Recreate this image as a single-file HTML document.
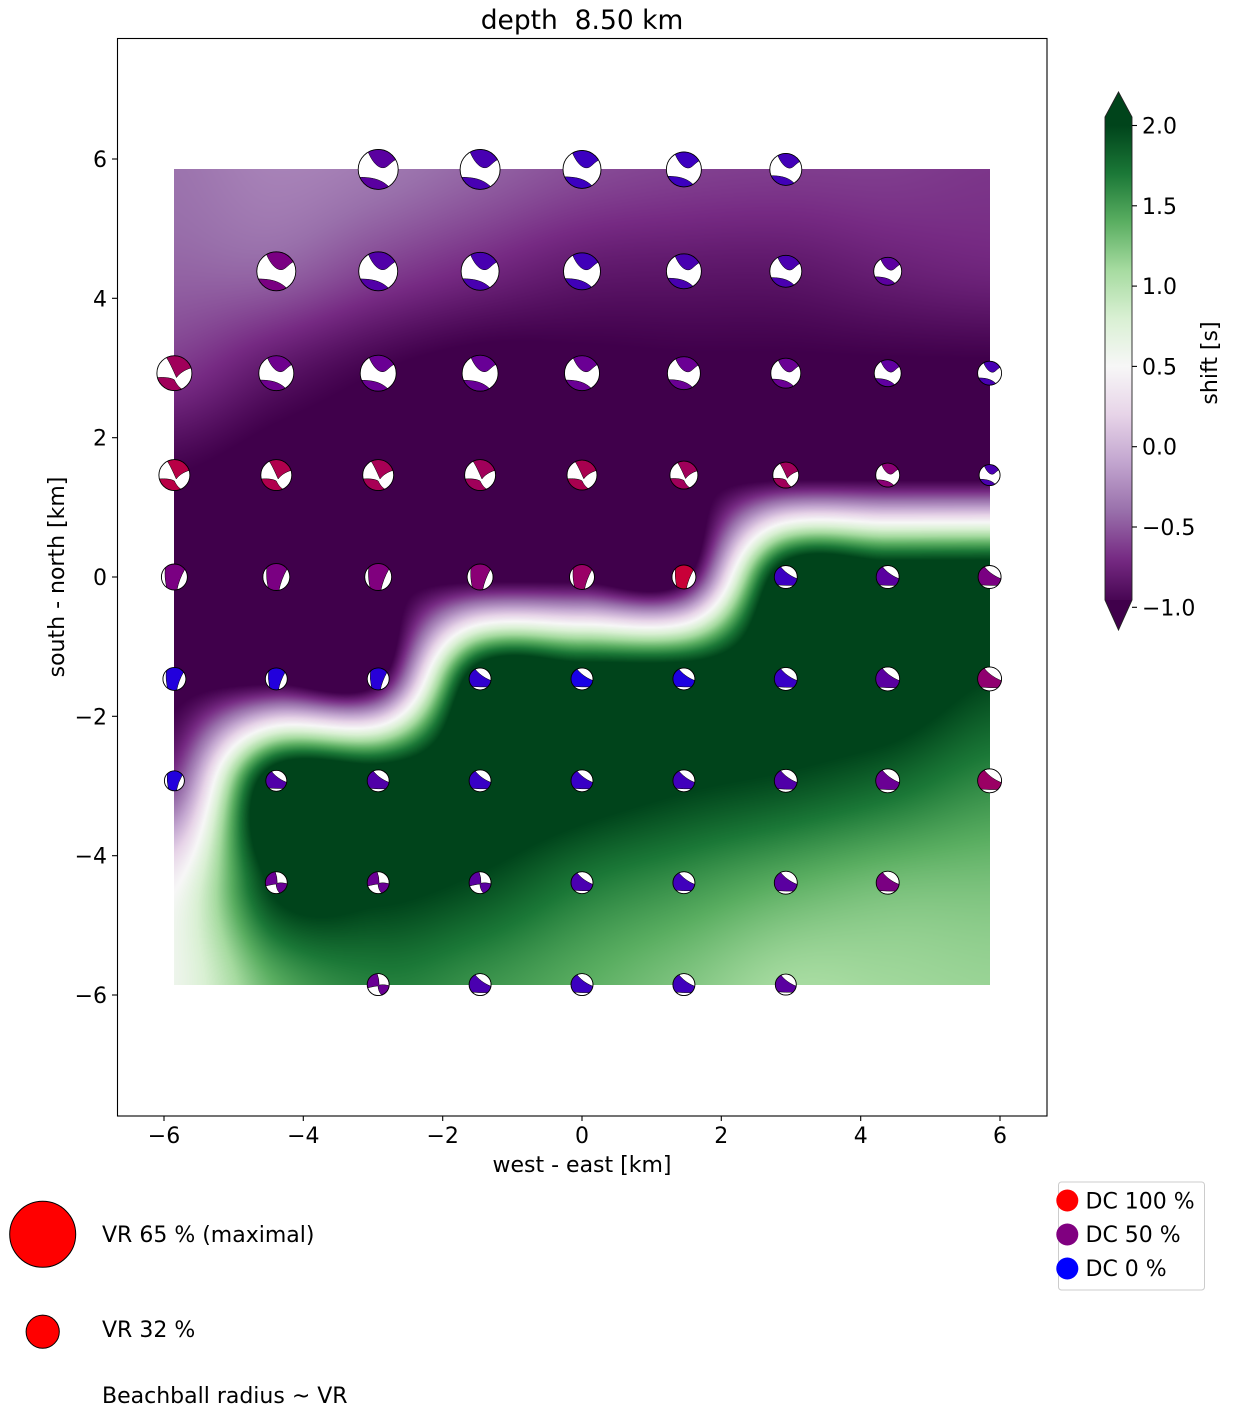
<!DOCTYPE html>
<html>
<head>
<meta charset="utf-8">
<style>
html,body{margin:0;padding:0;background:#fff;}
body{width:1234px;height:1418px;position:relative;overflow:hidden;}
svg{position:absolute;left:0;top:0;}
text{font-family:"DejaVu Sans","Liberation Sans",sans-serif;fill:#000;}
.s{stroke:#000;stroke-width:0.5;vector-effect:non-scaling-stroke;}
.w{fill:#fff;stroke:#000;stroke-width:0.5;vector-effect:non-scaling-stroke;}
.o{fill:none;stroke:#000;stroke-width:0.9;vector-effect:non-scaling-stroke;}
</style>
</head>
<body>
<svg width="1234" height="1418" viewBox="0 0 1234 1418">
  <rect x="174" y="169" width="816" height="816" fill="#40004b"/>
  <path d="M174,985 L174,870 L225,730 L429,730 L429,628 L735,628 L735,527 L990,527 L990,985 Z" fill="#00441b"/>
</svg>
<canvas id="heat" width="816" height="816" style="position:absolute;left:174px;top:169px;width:816px;height:816px;"></canvas>
<script>
(function(){
var C=[[64,0,75],[118,42,131],[153,112,171],[194,165,207],[231,212,232],[247,247,247],[217,240,211],[166,219,160],[90,174,97],[27,120,55],[0,68,27]];
var P=-1.1,G=2.4;
var V=[
[-0.38,-0.3,-0.35,-0.45,-0.55,-0.6,-0.62,-0.62,-0.65],
[-0.45,-0.45,-0.6,-0.72,-0.82,-0.84,-0.84,-0.78,-0.74],
[-0.65,-0.85,-1.0,-1.08,-1.05,-1.03,-1.03,-1.03,-1.03],
[-1.0,P,P,P,P,P,P,P,P],
[P,P,P,P,P,P,G,G,G],
[P,P,P,G,G,G,G,2.3,2.0],
[-0.6,G,G,G,2.2,2.05,1.95,1.8,1.6],
[0.45,2.1,2.1,1.95,1.7,1.55,1.4,1.3,1.28],
[0.6,1.4,1.65,1.55,1.4,1.25,1.1,1.12,1.15]];
var cv=document.getElementById('heat');
if(!cv||!cv.getContext)return;
var ctx=cv.getContext('2d'),W=816,H=816,img=ctx.createImageData(W,H),d=img.data;
function g(r,c){if(r<0)r=0;if(r>8)r=8;if(c<0)c=0;if(c>8)c=8;return V[r][c];}
function cr(a,b,c,e,t){return 0.5*(2*b+(-a+c)*t+(2*a-5*b+4*c-e)*t*t+(-a+3*b-3*c+e)*t*t*t);}
var sp=101.9,col=new Array(9);
for(var py=0;py<H;py++){
  var w=(169+py+0.5-169.4)/sp; if(w<0)w=0; if(w>8)w=8;
  var j=Math.floor(w); if(j>7)j=7; var fy=w-j;
  for(var c=0;c<9;c++) col[c]=cr(g(j-1,c),g(j,c),g(j+1,c),g(j+2,c),fy);
  for(var px=0;px<W;px++){
    var u=(174+px+0.5-174.4)/sp; if(u<0)u=0; if(u>8)u=8;
    var i=Math.floor(u); if(i>7)i=7; var fx=u-i;
    var v=cr(col[Math.max(i-1,0)],col[i],col[i+1],col[Math.min(i+2,8)],fx);
    var t=(v+1)/3; if(t<0)t=0; if(t>1)t=1;
    var f=t*10,k=Math.floor(f); if(k>9)k=9; var a=f-k;
    var p=(py*W+px)*4,c0=C[k],c1=C[k+1];
    d[p]=c0[0]+(c1[0]-c0[0])*a;
    d[p+1]=c0[1]+(c1[1]-c0[1])*a;
    d[p+2]=c0[2]+(c1[2]-c0[2])*a;
    d[p+3]=255;
  }
}
ctx.putImageData(img,0,0);
})();
</script>
<svg width="1234" height="1418" viewBox="0 0 1234 1418">
<defs>
  <g id="A"><circle r="1" fill="#fff"/><path class="s" d="M-0.5,-0.866A1,1 0 0 1 0.87,-0.49C0.55,-0.3 0.45,-0.05 0.2,-0.08C-0.1,-0.12 -0.35,-0.5 -0.5,-0.866Z"/><path class="s" d="M-0.92,0.39C-0.4,0.4 0.1,0.45 0.52,0.855A1,1 0 0 1 -0.92,0.39Z"/><circle class="o" r="1"/></g>
  <g id="B"><circle r="1" fill="#fff"/><path class="s" d="M-0.45,-0.89A1,1 0 0 1 0.95,-0.3C0.6,-0.2 0.3,0.0 0.12,0.25C0.0,0.0 -0.2,-0.5 -0.45,-0.89Z"/><path class="s" d="M-0.97,0.25C-0.6,0.22 -0.2,0.25 0.0,0.38C0.1,0.6 0.25,0.8 0.42,0.9A1,1 0 0 1 -0.97,0.25Z"/><circle class="o" r="1"/></g>
  <g id="C"><circle r="1"/><path class="w" d="M-0.7,-0.71Q-0.78,0 -0.6,0.8A1,1 0 0 1 -0.7,-0.71Z"/><path class="w" d="M0.8,-0.6Q0.35,0.2 0.2,0.98A1,1 0 0 0 0.8,-0.6Z"/><circle class="o" r="1"/></g>
  <g id="D"><circle r="1"/><path class="w" d="M-0.45,-0.89A1,1 0 0 1 0.99,0.15C0.6,0.0 0.3,-0.2 0.1,-0.35C-0.1,-0.5 -0.3,-0.7 -0.45,-0.89Z"/><path class="w" d="M-0.72,0.69Q0,0.75 0.68,0.73A1,1 0 0 1 -0.72,0.69Z"/><circle class="o" r="1"/></g>
  <g id="E"><circle r="1"/><path class="w" d="M-0.1,-0.99A1,1 0 0 1 0.99,0.1Q0.45,-0.05 0.08,0.05Q0.1,-0.5 -0.1,-0.99Z"/><path class="w" d="M-0.95,0.3Q-0.35,0.15 -0.02,0.12Q0,0.6 0.3,0.95A1,1 0 0 1 -0.95,0.3Z"/><circle class="o" r="1"/></g>
  <linearGradient id="cb" gradientUnits="userSpaceOnUse" x1="0" y1="607.3" x2="0" y2="125.5">
    <stop offset="0" stop-color="#40004b"/>
    <stop offset="0.1" stop-color="#762a83"/>
    <stop offset="0.2" stop-color="#9970ab"/>
    <stop offset="0.3" stop-color="#c2a5cf"/>
    <stop offset="0.4" stop-color="#e7d4e8"/>
    <stop offset="0.5" stop-color="#f7f7f7"/>
    <stop offset="0.6" stop-color="#d9f0d3"/>
    <stop offset="0.7" stop-color="#a6dba0"/>
    <stop offset="0.8" stop-color="#5aae61"/>
    <stop offset="0.9" stop-color="#1b7837"/>
    <stop offset="1" stop-color="#00441b"/>
  </linearGradient>
</defs>

<!-- Title -->
<text x="582" y="29" font-size="26.5" text-anchor="middle" style="white-space:pre">depth  8.50 km</text>

<!-- beachballs row 0 -->
<use href="#A" transform="translate(378.2 169.4) scale(20)" fill="#5a00a0"/>
<use href="#A" transform="translate(480.1 169.4) scale(20)" fill="#4800b2"/>
<use href="#A" transform="translate(582 169.4) scale(19)" fill="#3c00c0"/>
<use href="#A" transform="translate(683.9 169.4) scale(17.5)" fill="#3c00c0"/>
<use href="#A" transform="translate(785.8 169.4) scale(16)" fill="#4200b8"/>
<!-- row 1 -->
<use href="#A" transform="translate(276.3 271.3) scale(19.5)" fill="#7a0082"/>
<use href="#A" transform="translate(378.2 271.3) scale(19.5)" fill="#5200a8"/>
<use href="#A" transform="translate(480.1 271.3) scale(19)" fill="#4800b0"/>
<use href="#A" transform="translate(582 271.3) scale(18.5)" fill="#4000b8"/>
<use href="#A" transform="translate(683.9 271.3) scale(17.5)" fill="#4800b0"/>
<use href="#A" transform="translate(785.8 271.3) scale(16)" fill="#4a00b0"/>
<use href="#A" transform="translate(887.7 271.3) scale(14)" fill="#5c00a0"/>
<!-- row 2 -->
<use href="#B" transform="translate(174.4 373.2) scale(17.5)" fill="#a0005a"/>
<use href="#A" transform="translate(276.3 373.2) scale(17.5)" fill="#6e008e"/>
<use href="#A" transform="translate(378.2 373.2) scale(18)" fill="#6a0094"/>
<use href="#A" transform="translate(480.1 373.2) scale(18)" fill="#680096"/>
<use href="#A" transform="translate(582 373.2) scale(17.5)" fill="#6a0094"/>
<use href="#A" transform="translate(683.9 373.2) scale(16.5)" fill="#6a0094"/>
<use href="#A" transform="translate(785.8 373.2) scale(15)" fill="#6a0094"/>
<use href="#A" transform="translate(887.7 373.2) scale(13.5)" fill="#6000a0"/>
<use href="#A" transform="translate(989.6 373.2) scale(12)" fill="#4800b4"/>
<!-- row 3 -->
<use href="#B" transform="translate(174.4 475.1) scale(15.5)" fill="#b80045"/>
<use href="#B" transform="translate(276.3 475.1) scale(15.5)" fill="#b0004d"/>
<use href="#B" transform="translate(378.2 475.1) scale(15.5)" fill="#a80055"/>
<use href="#B" transform="translate(480.1 475.1) scale(15.5)" fill="#a0005a"/>
<use href="#B" transform="translate(582 475.1) scale(15)" fill="#a8004f"/>
<use href="#B" transform="translate(683.9 475.1) scale(14)" fill="#a0005a"/>
<use href="#B" transform="translate(785.8 475.1) scale(13)" fill="#a0005a"/>
<use href="#A" transform="translate(887.7 475.1) scale(12)" fill="#8a0075"/>
<use href="#A" transform="translate(989.6 475.1) scale(10.5)" fill="#4a00b0"/>
<!-- row 4 -->
<use href="#C" transform="translate(174.4 577) scale(13)" fill="#7a0082"/>
<use href="#C" transform="translate(276.3 577) scale(13.5)" fill="#7a0082"/>
<use href="#C" transform="translate(378.2 577) scale(13.5)" fill="#80007e"/>
<use href="#C" transform="translate(480.1 577) scale(13)" fill="#8a0075"/>
<use href="#C" transform="translate(582 577) scale(12.5)" fill="#9a0066"/>
<use href="#C" transform="translate(683.9 577) scale(12)" fill="#c80038"/>
<use href="#D" transform="translate(785.8 577) scale(11.5)" fill="#3c00c2"/>
<use href="#D" transform="translate(887.7 577) scale(11.5)" fill="#5a00a0"/>
<use href="#D" transform="translate(989.6 577) scale(11.5)" fill="#7a0082"/>
<!-- row 5 -->
<use href="#C" transform="translate(174.4 678.9) scale(11.5)" fill="#2200dc"/>
<use href="#C" transform="translate(276.3 678.9) scale(11)" fill="#2200dc"/>
<use href="#C" transform="translate(378.2 678.9) scale(11)" fill="#2800d8"/>
<use href="#D" transform="translate(480.1 678.9) scale(11)" fill="#3000ce"/>
<use href="#D" transform="translate(582 678.9) scale(11)" fill="#1800e6"/>
<use href="#D" transform="translate(683.9 678.9) scale(11)" fill="#1c00e0"/>
<use href="#D" transform="translate(785.8 678.9) scale(11.5)" fill="#3800c6"/>
<use href="#D" transform="translate(887.7 678.9) scale(12)" fill="#5a00a0"/>
<use href="#D" transform="translate(989.6 678.9) scale(12)" fill="#900070"/>
<!-- row 6 -->
<use href="#C" transform="translate(174.4 780.8) scale(10)" fill="#2200dc"/>
<use href="#D" transform="translate(276.3 780.8) scale(10.5)" fill="#5000a8"/>
<use href="#D" transform="translate(378.2 780.8) scale(11)" fill="#5000a8"/>
<use href="#D" transform="translate(480.1 780.8) scale(11)" fill="#3800c6"/>
<use href="#D" transform="translate(582 780.8) scale(11)" fill="#3800c6"/>
<use href="#D" transform="translate(683.9 780.8) scale(11)" fill="#4000bc"/>
<use href="#D" transform="translate(785.8 780.8) scale(11.5)" fill="#5000a8"/>
<use href="#D" transform="translate(887.7 780.8) scale(12)" fill="#6a0094"/>
<use href="#D" transform="translate(989.6 780.8) scale(12)" fill="#9a0064"/>
<!-- row 7 -->
<use href="#E" transform="translate(276.3 882.7) scale(11)" fill="#6a0094"/>
<use href="#E" transform="translate(378.2 882.7) scale(11)" fill="#6a0094"/>
<use href="#E" transform="translate(480.1 882.7) scale(11)" fill="#5a00a0"/>
<use href="#D" transform="translate(582 882.7) scale(11)" fill="#4a00b0"/>
<use href="#D" transform="translate(683.9 882.7) scale(11)" fill="#4000bc"/>
<use href="#D" transform="translate(785.8 882.7) scale(11.5)" fill="#5a00a0"/>
<use href="#D" transform="translate(887.7 882.7) scale(11.5)" fill="#7a0082"/>
<!-- row 8 -->
<use href="#E" transform="translate(378.2 984.6) scale(11)" fill="#6a0094"/>
<use href="#D" transform="translate(480.1 984.6) scale(11)" fill="#4a00b0"/>
<use href="#D" transform="translate(582 984.6) scale(11)" fill="#3c00c0"/>
<use href="#D" transform="translate(683.9 984.6) scale(11)" fill="#4000bc"/>
<use href="#D" transform="translate(785.8 984.6) scale(10.5)" fill="#5a00a0"/>

<!-- axes frame -->
<rect x="117.5" y="38.5" width="929.5" height="1077.5" fill="none" stroke="#000" stroke-width="1.1"/>

<!-- ticks -->
<g stroke="#000" stroke-width="1.1">
  <line x1="164" y1="1116" x2="164" y2="1121"/>
  <line x1="303.3" y1="1116" x2="303.3" y2="1121"/>
  <line x1="442.7" y1="1116" x2="442.7" y2="1121"/>
  <line x1="582" y1="1116" x2="582" y2="1121"/>
  <line x1="721.3" y1="1116" x2="721.3" y2="1121"/>
  <line x1="860.7" y1="1116" x2="860.7" y2="1121"/>
  <line x1="1000" y1="1116" x2="1000" y2="1121"/>
  <line x1="112" y1="159" x2="117" y2="159"/>
  <line x1="112" y1="298.3" x2="117" y2="298.3"/>
  <line x1="112" y1="437.7" x2="117" y2="437.7"/>
  <line x1="112" y1="577" x2="117" y2="577"/>
  <line x1="112" y1="716.3" x2="117" y2="716.3"/>
  <line x1="112" y1="855.7" x2="117" y2="855.7"/>
  <line x1="112" y1="995" x2="117" y2="995"/>
</g>
<g font-size="22" text-anchor="middle">
  <text x="164" y="1143">−6</text>
  <text x="303.3" y="1143">−4</text>
  <text x="442.7" y="1143">−2</text>
  <text x="582" y="1143">0</text>
  <text x="721.3" y="1143">2</text>
  <text x="860.7" y="1143">4</text>
  <text x="1000" y="1143">6</text>
</g>
<g font-size="22" text-anchor="end">
  <text x="107" y="167">6</text>
  <text x="107" y="306.3">4</text>
  <text x="107" y="445.7">2</text>
  <text x="107" y="585">0</text>
  <text x="107" y="724.3">−2</text>
  <text x="107" y="863.7">−4</text>
  <text x="107" y="1003">−6</text>
</g>
<text x="582" y="1172" font-size="22" text-anchor="middle">west - east [km]</text>
<text transform="translate(64 577) rotate(-90)" font-size="22" text-anchor="middle">south - north [km]</text>

<!-- colorbar -->
<polygon points="1105,117 1118.5,92 1132,117" fill="#00441b"/>
<polygon points="1105,600 1132,600 1118.5,630" fill="#40004b"/>
<rect x="1105" y="117" width="27" height="483" fill="url(#cb)"/>
<polygon points="1105,117 1118.5,92 1132,117 1132,600 1118.5,630 1105,600" fill="none" stroke="#222" stroke-width="0.9"/>
<g stroke="#000" stroke-width="1.1">
  <line x1="1132" y1="125.5" x2="1137" y2="125.5"/>
  <line x1="1132" y1="205.8" x2="1137" y2="205.8"/>
  <line x1="1132" y1="286.1" x2="1137" y2="286.1"/>
  <line x1="1132" y1="366.4" x2="1137" y2="366.4"/>
  <line x1="1132" y1="446.7" x2="1137" y2="446.7"/>
  <line x1="1132" y1="527" x2="1137" y2="527"/>
  <line x1="1132" y1="607.3" x2="1137" y2="607.3"/>
</g>
<g font-size="22">
  <text x="1142" y="133.5">2.0</text>
  <text x="1142" y="213.8">1.5</text>
  <text x="1142" y="294.1">1.0</text>
  <text x="1142" y="374.4">0.5</text>
  <text x="1142" y="454.7">0.0</text>
  <text x="1142" y="535">−0.5</text>
  <text x="1142" y="615.3">−1.0</text>
</g>
<text transform="translate(1217 363) rotate(-90)" font-size="22" text-anchor="middle">shift [s]</text>

<!-- VR legend -->
<circle cx="42.7" cy="1234.3" r="33" fill="#ff0000" stroke="#000" stroke-width="1"/>
<circle cx="42.7" cy="1331.7" r="16.6" fill="#ff0000" stroke="#000" stroke-width="1"/>
<g font-size="22">
  <text x="102" y="1242">VR 65 % (maximal)</text>
  <text x="102" y="1337">VR 32 %</text>
  <text x="102" y="1403">Beachball radius ~ VR</text>
</g>

<!-- DC legend -->
<rect x="1058.5" y="1182" width="146" height="108" rx="3" ry="3" fill="#fff" fill-opacity="0.8" stroke="#cccccc" stroke-width="1"/>
<circle cx="1067.3" cy="1200.5" r="11" fill="#ff0000"/>
<circle cx="1067.3" cy="1234.5" r="11" fill="#800080"/>
<circle cx="1067.3" cy="1268.5" r="11" fill="#0000ff"/>
<g font-size="22">
  <text x="1085.5" y="1208.3">DC 100 %</text>
  <text x="1085.5" y="1242">DC 50 %</text>
  <text x="1085.5" y="1276">DC 0 %</text>
</g>
</svg>
</body>
</html>
